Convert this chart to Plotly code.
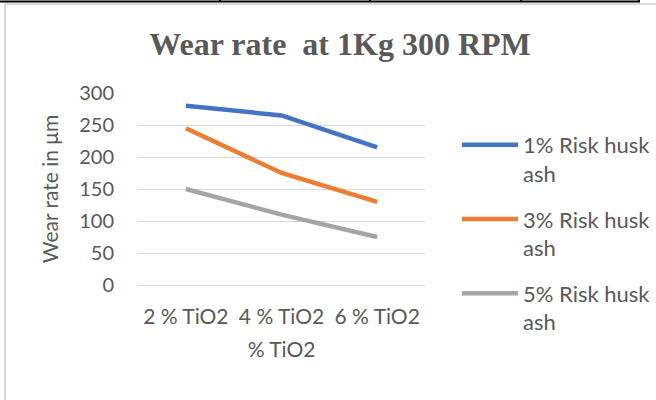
import plotly.graph_objects as go

categories = ["2 % TiO2", "4 % TiO2", "6 % TiO2"]
s1_name = "1% Risk husk<br>ash"
s2_name = "3% Risk husk<br>ash"
s3_name = "5% Risk husk<br>ash"
s1 = [280, 265, 215]
s2 = [245, 175, 130]
s3 = [150, 110, 75]
y_ticks = [0, 50, 100, 150, 200, 250, 300]

W, H = 656, 400
L, R, T, B = 138, 425, 93, 285

def px(x):
    return (x - L) / (R - L)

def py(y):
    return (B - y) / (B - T)

font_fam = "Lato, 'Open Sans', sans-serif"
grey_txt = "#595959"

fig = go.Figure()
for name, vals, col in [(s1_name, s1, "#4472C4"), (s2_name, s2, "#ED7D31"), (s3_name, s3, "#A5A5A5")]:
    fig.add_trace(go.Scatter(x=categories, y=vals, mode="lines", name=name,
                             legendgroup=name,
                             line=dict(color=col, width=4.5)))

shapes = []
# light grey frame
shapes.append(dict(type="line", xref="paper", yref="paper", x0=px(5), x1=px(700), y0=py(4), y1=py(4),
                   line=dict(color="#d9d9d9", width=2)))
shapes.append(dict(type="line", xref="paper", yref="paper", x0=px(5), x1=px(5), y0=py(4), y1=py(420),
                   line=dict(color="#d9d9d9", width=2)))
# black table border on top
shapes.append(dict(type="line", xref="paper", yref="paper", x0=px(0), x1=px(640), y0=py(1.5), y1=py(1.5),
                   line=dict(color="black", width=2)))
for xv in [220, 370, 521, 639]:
    shapes.append(dict(type="line", xref="paper", yref="paper", x0=px(xv), x1=px(xv), y0=py(-2), y1=py(2),
                       line=dict(color="black", width=2)))

fig.update_layout(
    width=W, height=H,
    margin=dict(l=L, r=W - R, t=T, b=H - B),
    paper_bgcolor="white", plot_bgcolor="white",
    title=dict(text="<b>Wear rate  at 1Kg 300 RPM</b>", x=340 / W, xanchor="center",
               y=1 - 44 / H, yanchor="middle",
               font=dict(family="'Liberation Serif', 'Times New Roman', serif", size=32, color=grey_txt)),
    xaxis=dict(type="category", range=[-0.5, 2.5], showgrid=False, showline=False, zeroline=False,
               ticks="", ticklabelstandoff=17, tickfont=dict(family=font_fam, size=21, color=grey_txt),
               title=dict(text="% TiO2", font=dict(family=font_fam, size=21, color=grey_txt), standoff=15)),
    yaxis=dict(range=[0, 300], tickvals=y_ticks, showgrid=True, gridcolor="#d9d9d9", gridwidth=1,
               zeroline=True, zerolinecolor="#d9d9d9", zerolinewidth=1, showline=False, ticks="",
               ticklabelstandoff=23,
               tickfont=dict(family=font_fam, size=20, color=grey_txt),
               title=dict(text="Wear rate in μm", font=dict(family=font_fam, size=21, color=grey_txt), standoff=14)),
    legend=dict(xref="container", yref="container", x=457 / W, xanchor="left", y=1 - 124 / H, yanchor="top",
                maxheight=400,
                font=dict(family=font_fam, size=22, color=grey_txt),
                itemwidth=56, tracegroupgap=14, valign="top", bgcolor="rgba(0,0,0,0)"),
    shapes=shapes,
)

fig.write_html("out.html", config={"displayModeBar": False},
               post_script="document.body.style.margin='0';document.body.style.overflow='hidden';")
